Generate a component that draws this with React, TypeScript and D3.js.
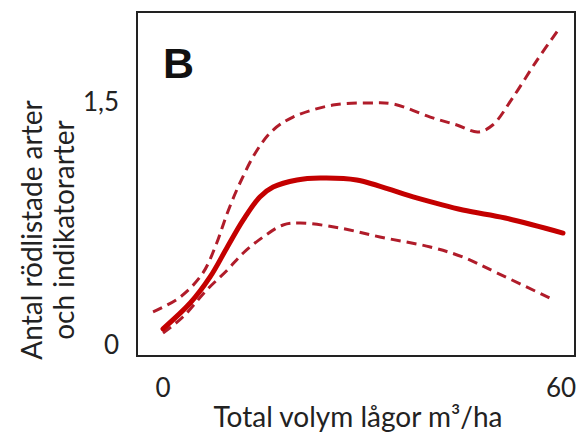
import React from 'react';
import * as d3 from 'd3';

// Fitted curve (solid) and confidence band (dashed), x = m3/ha, y = antal arter
const fitX = [0, 4.1, 7.1, 9.7, 12.1, 14.6, 16.6, 20.2, 23.7, 29.2, 37.7, 45.2, 51.6, 60.3];
const fitY = [0.1, 0.259, 0.42, 0.605, 0.772, 0.914, 0.975, 1.019, 1.031, 1.019, 0.914, 0.833, 0.784, 0.691];

const upperX = [-1.5, 2.6, 6.0, 8.1, 9.7, 11.6, 14.2, 16.6, 19.6, 25.6, 31.2, 34.7, 40.3, 44.3, 47.5, 49.7, 52.8, 56.4, 59.8];
const upperY = [0.204, 0.296, 0.444, 0.63, 0.815, 1.0, 1.204, 1.327, 1.407, 1.481, 1.494, 1.488, 1.407, 1.358, 1.315, 1.358, 1.531, 1.759, 1.957];

const lowerX = [0, 3.0, 6.6, 9.7, 12.1, 15.1, 18.1, 20.7, 26.7, 32.7, 40.3, 45.2, 50.4, 58.3];
const lowerY = [0.074, 0.173, 0.34, 0.463, 0.568, 0.667, 0.741, 0.753, 0.722, 0.667, 0.605, 0.543, 0.444, 0.29];

const xTicks = [0, 60];
const yTicks = [0, 1.5];
const yTickLabels = ['0', '1,5'];

const panelLabel = 'B';
const xTitle = 'Total volym lågor m³/ha';
const yTitle = ['Antal rödlistade arter', 'och indikatorarter'];

const W = 582;
const H = 432;
const box = { left: 137, top: 12, right: 575, bottom: 356 };
const font = 'Lato, "Open Sans", sans-serif';

const App: React.FC = () => {
  const x = d3.scaleLinear().domain([0, 60]).range([163, 561]);
  const y = d3.scaleLinear().domain([0, 1.5]).range([345, 102]);

  const line = d3.line<[number, number]>()
    .x(d => x(d[0]))
    .y(d => y(d[1]))
    .curve(d3.curveCatmullRom.alpha(0.5));

  const zip = (xs: number[], ys: number[]) => xs.map((v, i) => [v, ys[i]] as [number, number]);

  return (
    <svg width={W} height={H} style={{ position: 'absolute', left: 0, top: 0, background: '#fff' }}>
      <rect x={box.left} y={box.top} width={box.right - box.left} height={box.bottom - box.top}
        fill="none" stroke="#222" strokeWidth={2} />

      <text x={163} y={78} fontFamily='"Liberation Sans", Arial, sans-serif' fontWeight="bold" fontSize={43} fill="#111">
        {panelLabel}
      </text>

      <path d={line(zip(upperX, upperY)) ?? ''} fill="none" stroke="#b01c2a" strokeWidth={3} strokeDasharray="10,6" />
      <path d={line(zip(lowerX, lowerY)) ?? ''} fill="none" stroke="#b01c2a" strokeWidth={3} strokeDasharray="10,6" />
      <path d={line(zip(fitX, fitY)) ?? ''} fill="none" stroke="#c40000" strokeWidth={5} strokeLinecap="round" />

      {yTicks.map((t, i) => (
        <text key={t} x={119} y={y(t)} dy="0.36em" textAnchor="end" fontFamily={font} fontSize={26} fill="#222">
          {yTickLabels[i]}
        </text>
      ))}
      {xTicks.map(t => (
        <text key={t} x={x(t)} y={397} textAnchor="middle" fontFamily={font} fontSize={26} fill="#222">
          {t}
        </text>
      ))}

      <text x={358} y={427} textAnchor="middle" fontFamily={font} fontSize={28} fill="#222">
        {xTitle}
      </text>

      {yTitle.map((t, i) => (
        <text key={t} transform={`translate(${42 + i * 32},230) rotate(-90)`} textAnchor="middle"
          fontFamily={font} fontSize={28} fill="#222">
          {t}
        </text>
      ))}
    </svg>
  );
};

export default App;
